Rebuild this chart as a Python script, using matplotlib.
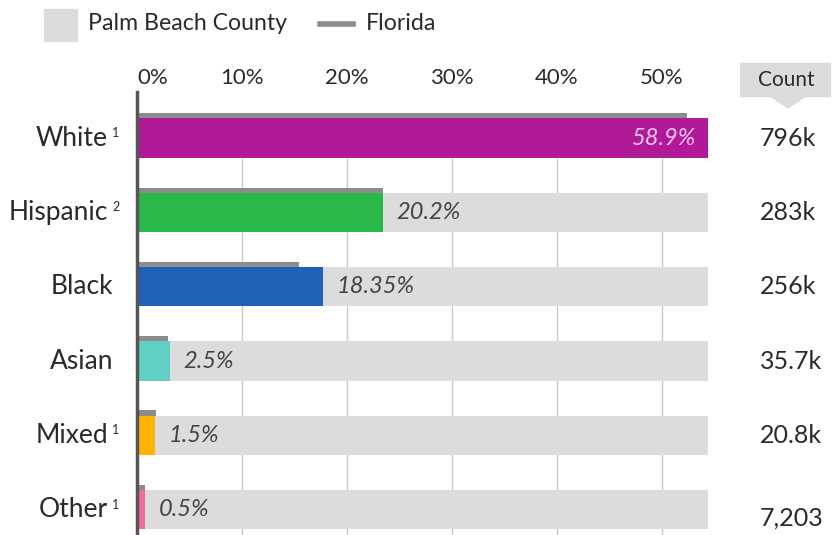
#! /usr/bin/env python3
"""Palm Beach County population by race/ethnicity vs. Florida."""

import matplotlib.pyplot as plt
from matplotlib.patches import Polygon, Rectangle

plt.rcParams.update({"font.family": ["Lato", "DejaVu Sans"]})

groups = ["White", "Hispanic", "Black", "Asian", "Mixed", "Other"]
notes = ["1", "2", "", "", "1", "1"]
# bar lengths as drawn (%), the chart clips at its right edge
county_share = [58.9, 23.4, 17.7, 3.1, 1.7, 0.76]
florida_share = [52.4, 23.4, 15.4, 3.0, 1.8, 0.76]
share_labels = ["58.9%", "20.2%", "18.35%", "2.5%", "1.5%", "0.5%"]
counts = ["796k", "283k", "256k", "35.7k", "20.8k", "7,203"]
colors = ["#b01a98", "#2bb84a", "#1f63b8", "#5fd0c4", "#ffb300", "#ef6c9f"]
ticks = [0, 10, 20, 30, 40, 50]

X_MAX = 54.4
BAR_H = 0.53
LINE_H = 0.07
BG = "#dcdcdc"
FL_GRAY = "#8c8c8c"
TEXT = "#2a2a2a"

fig = plt.figure(figsize=(8.33, 5.35), dpi=100)
W, H = 833, 535
ax = fig.add_axes([137 / W, 0, (708 - 137) / W, (535 - 92) / H])
ax.set_xlim(0, X_MAX)
ax.set_ylim(5.34, -0.62)

for side in ["top", "right", "bottom"]:
    ax.spines[side].set_visible(False)
ax.spines["left"].set_color("#555555")
ax.spines["left"].set_linewidth(2.5)
ax.set_yticks([])
ax.xaxis.tick_top()
ax.set_xticks(ticks)
ax.set_xticklabels([f"{t}%" for t in ticks], fontsize=16, color=TEXT)
ax.tick_params(axis="x", length=0, pad=3)
ax.get_xticklabels()[0].set_horizontalalignment("left")

# grid lines between the bars
ax.vlines(ticks[1:], BAR_H / 2, 5.34, color="#c8c8c8", lw=1, zorder=0)

y = list(range(len(groups)))
ax.barh(y, [X_MAX] * len(y), height=BAR_H, color=BG, zorder=1)
ax.barh(y, county_share, height=BAR_H, color=colors, zorder=2)
ax.barh([i - BAR_H / 2 - LINE_H / 2 for i in y], florida_share, height=LINE_H,
        color=FL_GRAY, zorder=2)

for i, (val, lab) in enumerate(zip(county_share, share_labels)):
    if val >= X_MAX:
        ax.text(X_MAX - 1.1, i, lab, ha="right", va="center", fontsize=17,
                style="italic", color="#f0c4ea", zorder=3)
    else:
        ax.text(val + 1.3, i, lab, ha="left", va="center", fontsize=17,
                style="italic", color="#444444", zorder=3)

# category labels with footnote marks
for i, (name, note) in enumerate(zip(groups, notes)):
    ax.annotate(name, (0, i), xycoords="data", xytext=(-29 if note else -24, 0),
                textcoords="offset pixels", ha="right", va="center",
                fontsize=19, color=TEXT, annotation_clip=False)
    if note:
        ax.annotate(note, (0, i), xycoords="data", xytext=(-25, 5),
                    textcoords="offset pixels", ha="left", va="center",
                    fontsize=9, color=TEXT, annotation_clip=False)

# count column
for i, c in enumerate(counts):
    dy = 8 if i == len(counts) - 1 else 0
    ax.annotate(c, (X_MAX, i), xycoords="data", xytext=(52, -dy),
                textcoords="offset pixels", ha="left", va="center",
                fontsize=18, color=TEXT, annotation_clip=False)

fig.patches.append(Rectangle((740 / W, 1 - 96 / H), 90 / W, 33 / H,
                             transform=fig.transFigure, color=BG))
fig.patches.append(Polygon([(770 / W, 1 - 96 / H), (806 / W, 1 - 96 / H),
                            (788 / W, 1 - 108 / H)],
                           transform=fig.transFigure, color=BG))
fig.text(786 / W, 1 - 80 / H, "Count", ha="center", va="center",
         fontsize=15, color=TEXT)

# legend
fig.patches.append(Rectangle((44 / W, 1 - 41 / H), 33 / W, 32 / H,
                             transform=fig.transFigure, color=BG))
fig.text(88 / W, 1 - 24 / H, "Palm Beach County", ha="left", va="center",
         fontsize=16.7, color=TEXT)
fig.lines.append(plt.Line2D([320 / W, 353 / W], [1 - 24 / H, 1 - 24 / H],
                            transform=fig.transFigure, color=FL_GRAY, lw=4))
fig.text(366 / W, 1 - 24 / H, "Florida", ha="left", va="center",
         fontsize=16.7, color=TEXT)

fig.savefig("out.png", dpi=100)
